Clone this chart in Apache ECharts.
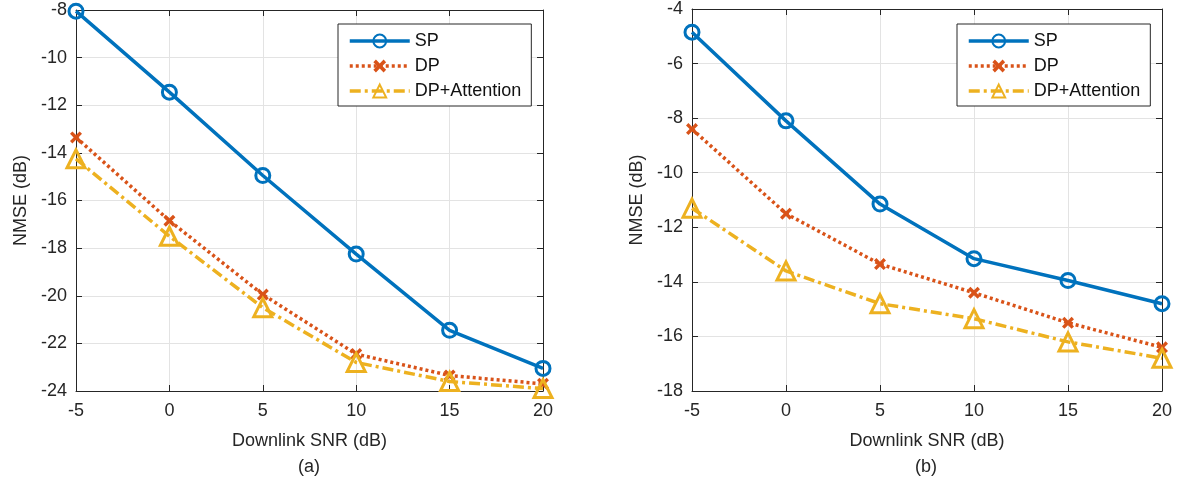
<!DOCTYPE html>
<html>
<head>
<meta charset="utf-8">
<script src="https://cdn.jsdelivr.net/npm/echarts@6/dist/echarts.min.js"></script>
<style>
  html, body { margin: 0; padding: 0; background: #fff; }
  #chart { width: 1181px; height: 486px; }
</style>
</head>
<body>
<div id="chart"></div>
<script>
// downlink SNR values (dB)
var snr = [-5, 0, 5, 10, 15, 20];

// (a)
var spA = [-8.05, -11.45, -14.95, -18.25, -21.45, -23.05];
var dpA = [-13.35, -16.85, -19.95, -22.45, -23.35, -23.7];
var attA = [-14.25, -17.5, -20.5, -22.8, -23.6, -23.9];

// (b)
var spB = [-4.85, -8.1, -11.15, -13.15, -13.95, -14.8];
var dpB = [-8.4, -11.5, -13.35, -14.4, -15.5, -16.4];
var attB = [-11.3, -13.6, -14.8, -15.35, -16.2, -16.8];

var names = ['SP', 'DP', 'DP+Attention'];
var colors = ['#0072BD', '#D95319', '#EDB120'];
var crossPath = 'path://M2,0 L5,3 L8,0 L10,2 L7,5 L10,8 L8,10 L5,7 L2,10 L0,8 L3,5 L0,2 Z';

function pairs(ys) {
  return snr.map(function (x, i) { return [x, ys[i]]; });
}

var font = "'Liberation Sans', Arial, Helvetica, sans-serif";
var ink = '#262626';

function makeSeries(idx, ys) {
  var s = {
    name: names[idx],
    type: 'line',
    data: pairs(ys),
    lineStyle: { color: colors[idx], width: 3.5 },
    z: 3 + idx
  };
  if (idx === 0) {
    s.symbol = 'circle';
    s.symbolSize = 14;
    s.itemStyle = { color: 'rgba(255,255,255,0)', borderColor: colors[idx], borderWidth: 3 };
  } else if (idx === 1) {
    s.symbol = crossPath;
    s.symbolSize = 12;
    s.lineStyle.type = [3, 3];
    s.itemStyle = { color: colors[idx], borderWidth: 0 };
  } else {
    s.symbol = 'triangle';
    s.symbolSize = 18;
    s.lineStyle.type = [11, 4, 3, 4];
    s.itemStyle = { color: 'rgba(255,255,255,0)', borderColor: colors[idx], borderWidth: 3 };
  }
  return s;
}

function xAxes(grid) {
  return [{
    type: 'value', gridIndex: grid, min: -5, max: 20, interval: 5,
    name: 'Downlink SNR (dB)', nameLocation: 'middle', nameGap: 41,
    nameTextStyle: { fontFamily: font, fontSize: 18, color: ink },
    axisLine: { onZero: false, lineStyle: { color: ink, width: 1 } },
    axisTick: { inside: true, length: 6, lineStyle: { color: ink } },
    axisLabel: { fontFamily: font, fontSize: 18, color: ink, margin: 11 },
    splitLine: { show: true, lineStyle: { color: '#e3e3e3', width: 1 } }
  }, {
    type: 'value', gridIndex: grid, min: -5, max: 20, interval: 5, position: 'top',
    axisLine: { onZero: false, lineStyle: { color: ink, width: 1 } },
    axisTick: { inside: true, length: 6, lineStyle: { color: ink } },
    axisLabel: { show: false }, splitLine: { show: false }
  }];
}

function yAxes(grid, min, max) {
  return [{
    type: 'value', gridIndex: grid, min: min, max: max, interval: 2,
    name: 'NMSE (dB)', nameLocation: 'middle', nameGap: 46,
    nameTextStyle: { fontFamily: font, fontSize: 18, color: ink },
    axisLine: { show: true, onZero: false, lineStyle: { color: ink, width: 1 } },
    axisTick: { show: true, inside: true, length: 6, lineStyle: { color: ink } },
    axisLabel: { fontFamily: font, fontSize: 18, color: ink, margin: 9 },
    splitLine: { show: true, lineStyle: { color: '#e3e3e3', width: 1 } }
  }, {
    type: 'value', gridIndex: grid, min: min, max: max, interval: 2, position: 'right',
    axisLine: { show: true, onZero: false, lineStyle: { color: ink, width: 1 } },
    axisTick: { show: true, inside: true, length: 6, lineStyle: { color: ink } },
    axisLabel: { show: false }, splitLine: { show: false }
  }];
}

function legend(left) {
  return {
    data: names, orient: 'vertical', left: left, top: 24,
    backgroundColor: '#fff', borderColor: ink, borderWidth: 1,
    padding: [8, 10, 6, 10], itemGap: 7, itemWidth: 60, itemHeight: 16,
    lineStyle: { width: 3.5 },
    textStyle: { fontFamily: font, fontSize: 18, color: '#111' },
    selectedMode: false
  };
}

var series = [];
[spA, dpA, attA].forEach(function (d, i) {
  var s = makeSeries(i, d); s.xAxisIndex = 0; s.yAxisIndex = 0; series.push(s);
});
[spB, dpB, attB].forEach(function (d, i) {
  var s = makeSeries(i, d); s.xAxisIndex = 2; s.yAxisIndex = 2; series.push(s);
});

var chart = echarts.init(document.getElementById('chart'), null, { renderer: 'canvas' });
chart.setOption({
  animation: false,
  backgroundColor: '#fff',
  grid: [
    { left: 76, top: 10, width: 467, height: 381 },
    { left: 692, top: 8, width: 470, height: 383 }
  ],
  xAxis: xAxes(0).concat(xAxes(1)),
  yAxis: yAxes(0, -24, -8).concat(yAxes(1, -18, -4)),
  legend: [legend(338), legend(957)],
  graphic: [
    { type: 'text', left: 298, top: 458, style: { text: '(a)', font: "18px 'Liberation Sans', Arial, sans-serif", fill: ink } },
    { type: 'text', left: 915, top: 458, style: { text: '(b)', font: "18px 'Liberation Sans', Arial, sans-serif", fill: ink } }
  ],
  series: series
});
</script>
</body>
</html>
